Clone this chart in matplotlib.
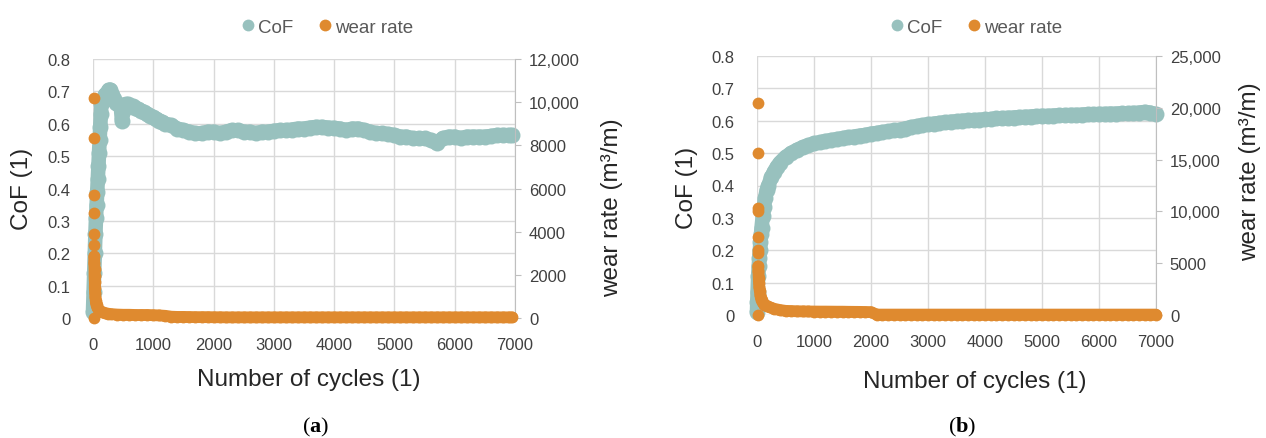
import numpy as np
import matplotlib.pyplot as plt
from matplotlib.lines import Line2D
from matplotlib.ticker import FuncFormatter

plt.rcParams['font.family'] = ['Liberation Sans', 'DejaVu Sans']
plt.rcParams['mathtext.fontset'] = 'custom'
plt.rcParams['mathtext.rm'] = 'Liberation Serif'
plt.rcParams['mathtext.bf'] = 'Liberation Serif:bold'

TEAL = '#98c1be'
ORANGE = '#df8a2f'
GRID = '#d9d9d9'
TXT = '#404040'

# ---- (a) ----
cof_a_x = [0, 10, 20, 30, 40, 50, 60, 70, 80, 90, 100, 110, 120, 130, 140, 160, 180, 200,
           230, 260, 290, 320, 350, 380, 420, 460, 480, 500, 540, 580, 620, 660, 700, 750,
           800, 850, 900, 950, 1000, 1050, 1100, 1150, 1200] + list(range(1300, 7000, 100)) + [6950]
cof_a_y = [0.02, 0.08, 0.14, 0.2, 0.26, 0.31, 0.35, 0.39, 0.43, 0.47, 0.51, 0.55, 0.59, 0.63,
           0.66, 0.67, 0.68, 0.69, 0.695, 0.705, 0.705, 0.69, 0.675, 0.665, 0.66, 0.655, 0.61,
           0.64, 0.66, 0.66, 0.655, 0.655, 0.65, 0.645, 0.64, 0.635, 0.63, 0.625, 0.62, 0.615,
           0.61, 0.605, 0.6,
           0.595, 0.585, 0.58, 0.575, 0.57, 0.57, 0.575, 0.575, 0.57, 0.575, 0.58, 0.58, 0.575,
           0.575, 0.57, 0.575, 0.575, 0.578, 0.58, 0.58, 0.582, 0.585, 0.585, 0.588, 0.59, 0.59,
           0.588, 0.587, 0.585, 0.58, 0.585, 0.585, 0.58, 0.575, 0.57, 0.57, 0.568, 0.565, 0.56,
           0.56, 0.555, 0.555, 0.555, 0.55, 0.54, 0.555, 0.56, 0.56, 0.555, 0.56, 0.56, 0.56,
           0.56, 0.562, 0.565, 0.565, 0.565, 0.565]

wear_a_x = [10, 15, 15, 15, 15, 15, 15, 20, 20, 25, 25, 30, 30, 35, 40, 45, 50, 60, 70, 80,
            100, 120, 150, 200, 250, 300, 400, 500, 600, 700, 800, 900, 1000, 1100,
            1200] + list(range(1300, 7000, 100)) + [6950]
wear_a_y = [0, 10200, 8325, 5700, 4875, 3900, 3375, 2850, 2550, 2250, 1950, 1650, 1400, 1150,
            950, 800, 680, 580, 500, 440, 380, 330, 280, 230, 200, 180, 160, 150, 150, 140,
            140, 140, 130, 120, 100,
            60, 50, 50, 45, 40, 40, 40, 35, 35, 30, 30, 30, 30, 30, 30, 30, 30, 30, 30, 30,
            30, 30, 30, 30, 30, 30, 30, 30, 30, 30, 30, 30, 30, 30, 30, 30, 30, 30, 30, 30,
            30, 30, 30, 30, 30, 30, 30, 30, 30, 30, 30, 30, 30, 30, 30, 30, 30, 30]

# ---- (b) ----
cof_b_x = [0, 5, 10, 20, 30, 40, 50, 60, 70, 80, 100, 120, 140, 170, 200, 250, 300, 350, 400,
           500, 600, 700, 800, 900] + list(range(1000, 7001, 100))
cof_b_y = [0.01, 0.04, 0.07, 0.12, 0.15, 0.175, 0.2, 0.225, 0.25, 0.27, 0.305, 0.335, 0.36,
           0.385, 0.4, 0.425, 0.443, 0.458, 0.47, 0.488, 0.5, 0.51, 0.518, 0.524,
           0.53, 0.533, 0.537, 0.54, 0.543, 0.546, 0.549, 0.551, 0.554, 0.556, 0.56, 0.562,
           0.565, 0.567, 0.57, 0.572, 0.576, 0.58, 0.583, 0.586, 0.589, 0.591, 0.593, 0.595,
           0.597, 0.598, 0.6, 0.601, 0.602, 0.603, 0.604, 0.605, 0.607, 0.608, 0.609, 0.61,
           0.611, 0.612, 0.613, 0.614, 0.615, 0.615, 0.616, 0.617, 0.617, 0.618, 0.618, 0.619,
           0.62, 0.62, 0.621, 0.621, 0.622, 0.622, 0.623, 0.623, 0.624, 0.625, 0.627, 0.625,
           0.62]

wear_b_x = [10, 15, 15, 15, 15, 15, 15, 15, 20, 25, 30, 35, 40, 50, 60, 70, 80, 100, 130, 170,
            220, 300, 400, 500, 600, 700, 800, 900, 1000, 1100, 1200, 1300, 1400, 1500, 1600,
            1700, 1800, 1900, 2000] + list(range(2100, 7001, 100))
wear_b_y = [0, 20470, 15600, 10300, 10000, 7500, 6250, 5940, 4700, 4200, 3600, 3100, 2700,
            2300, 1900, 1600, 1400, 1200, 1000, 900, 750, 600, 480, 400, 380, 360, 350, 340,
            335, 330, 330, 325, 320, 320, 310, 305, 300, 290, 280] + [40] * 50

# dense band starts at this index in the wear lists (earlier ones are single dots)
band_a = 7
band_b = 8


def label_cof(v, _):
    return '0' if v == 0 else f'{v:.1f}'


def label_wear(v, _):
    return f'{int(v):,}' if v >= 10000 else f'{int(v)}'


def panel(rect, cx, cy, wx, wy, band, wmax, wstep):
    ax = fig.add_axes(rect)
    ax.plot(cx, cy, '-', color=TEAL, lw=10.5, solid_capstyle='round', solid_joinstyle='round',
            clip_on=False, zorder=3)
    ax.plot(cx, cy, 'o', color=TEAL, ms=11.5, mew=0, clip_on=False, zorder=3)
    ax.set_xlim(0, 7000)
    ax.set_ylim(0, 0.8)
    ax.set_xticks(np.arange(0, 7001, 1000))
    ax.set_yticks(np.arange(0, 0.81, 0.1))
    ax.yaxis.set_major_formatter(FuncFormatter(label_cof))
    ax.grid(True, color=GRID, lw=1)
    ax.set_axisbelow(True)
    for s in ax.spines.values():
        s.set_visible(False)
    ax.tick_params(length=0, labelsize=12, colors=TXT)
    ax.tick_params(axis='y', pad=16)
    ax.tick_params(axis='x', pad=14)

    ax2 = ax.twinx()
    ax2.plot(wx[band:], wy[band:], '-', color=ORANGE, lw=8.5, solid_capstyle='round',
             solid_joinstyle='round', clip_on=False, zorder=4)
    ax2.plot(wx, wy, 'o', color=ORANGE, ms=8.5, mew=0, clip_on=False, zorder=4)
    ax2.set_ylim(0, wmax)
    ax2.set_yticks(np.arange(0, wmax + 1, wstep))
    ax2.yaxis.set_major_formatter(FuncFormatter(label_wear))
    for k in ['left', 'top', 'bottom']:
        ax2.spines[k].set_visible(False)
    ax2.spines['right'].set_color('#bfbfbf')
    ax2.tick_params(axis='y', length=4, color='#bfbfbf', labelsize=12, labelcolor=TXT, pad=6)
    return ax, ax2


fig = plt.figure(figsize=(12.66, 4.39), dpi=100)
W, H = 1266, 439

panel([93 / W, 1 - 319 / H, 422 / W, 259 / H], cof_a_x, cof_a_y, wear_a_x, wear_a_y, band_a,
      12000, 2000)
panel([757 / W, 1 - 316 / H, 399 / W, 259 / H], cof_b_x, cof_b_y, wear_b_x, wear_b_y, band_b,
      25000, 5000)


def ftext(x, y, s, **kw):
    fig.text(x / W, 1 - y / H, s, ha='center', va='center', **kw)


tsize = 17.5
ftext(22, 189, 'CoF (1)', rotation=90, fontsize=tsize, color='#262626')
ftext(687, 188, 'CoF (1)', rotation=90, fontsize=tsize, color='#262626')
ftext(612, 208, 'wear rate (m³/m)', rotation=90, fontsize=tsize, color='#262626')
ftext(1250, 172, 'wear rate (m³/m)', rotation=90, fontsize=tsize, color='#262626')
ftext(309, 380, 'Number of cycles (1)', fontsize=tsize, color='#262626')
ftext(975, 382, 'Number of cycles (1)', fontsize=tsize, color='#262626')
ftext(316, 427, r'($\mathbf{a}$)', fontsize=16, family='Liberation Serif', color='black')
ftext(962, 427, r'($\mathbf{b}$)', fontsize=16, family='Liberation Serif', color='black')

handles = [Line2D([], [], marker='o', ls='none', color=TEAL, ms=8.5, mew=0, label='CoF'),
           Line2D([], [], marker='o', ls='none', color=ORANGE, ms=8.5, mew=0, label='wear rate')]
for cx in (326, 975):
    fig.legend(handles=handles, loc='center', bbox_to_anchor=(cx / W, 1 - 28 / H), ncol=2,
               frameon=False, fontsize=13.5, handletextpad=0.05, columnspacing=1.2,
               handlelength=1.0, labelcolor='#595959')

fig.savefig('out.png', dpi=100)
